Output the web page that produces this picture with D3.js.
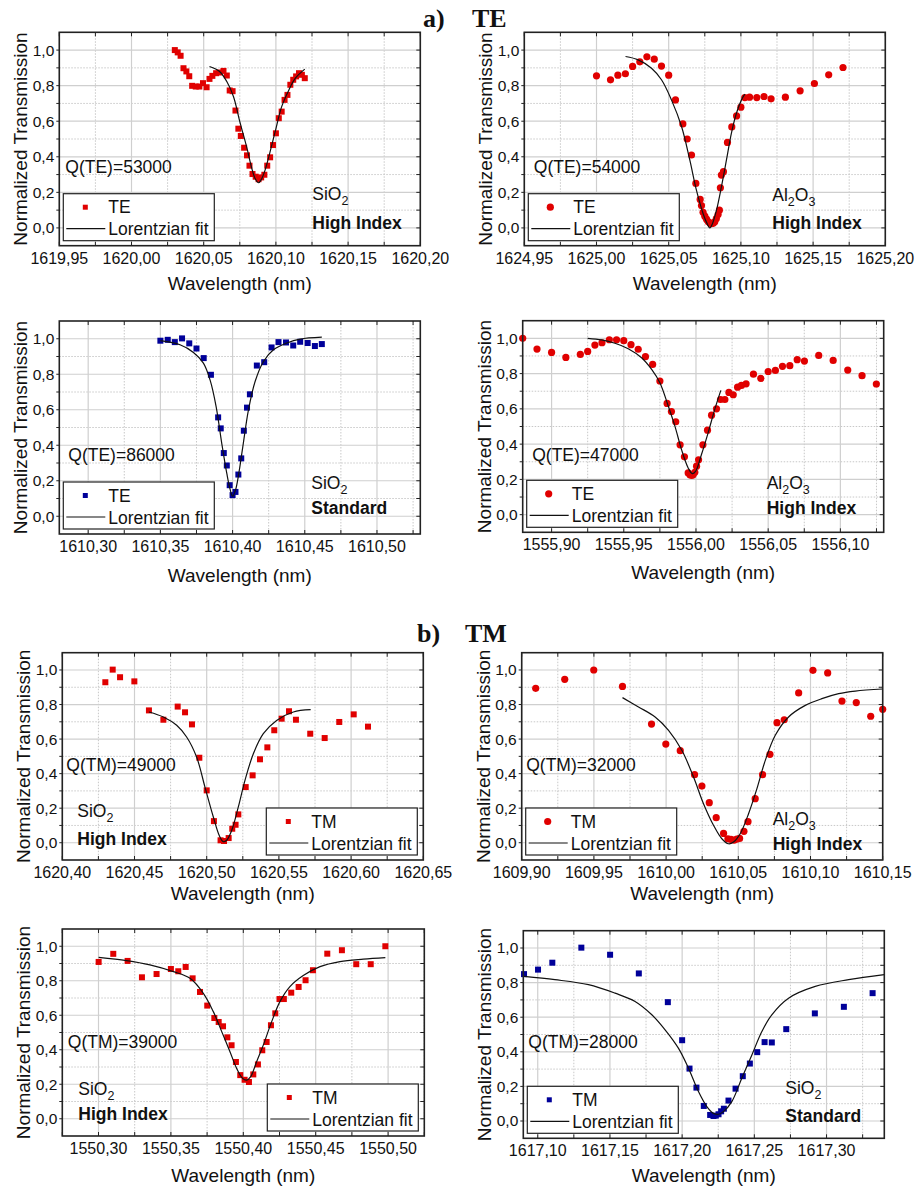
<!DOCTYPE html>
<html>
<head>
<meta charset="utf-8">
<script src="https://cdn.jsdelivr.net/npm/d3@7"></script>
<style>
body { margin: 0; background: #fff; }
text { font-family: "Liberation Sans", Arial, sans-serif; fill: #111; }
</style>
</head>
<body>
<script>
var teSiHiPts = [[1620.030,1.000],[1620.032,0.987],[1620.034,0.968],[1620.036,0.898],[1620.038,0.880],[1620.040,0.853],[1620.042,0.799],[1620.0445,0.795],[1620.047,0.795],[1620.0495,0.814],[1620.052,0.791],[1620.054,0.838],[1620.056,0.855],[1620.0586,0.870],[1620.061,0.874],[1620.0637,0.883],[1620.066,0.857],[1620.068,0.773],[1620.070,0.769],[1620.072,0.660],[1620.074,0.558],[1620.0757,0.517],[1620.078,0.451],[1620.080,0.408],[1620.0817,0.350],[1620.0838,0.303],[1620.086,0.288],[1620.088,0.274],[1620.0898,0.284],[1620.092,0.299],[1620.094,0.350],[1620.096,0.397],[1620.098,0.466],[1620.100,0.532],[1620.102,0.617],[1620.104,0.654],[1620.106,0.720],[1620.108,0.748],[1620.110,0.805],[1620.112,0.833],[1620.114,0.852],[1620.116,0.870],[1620.118,0.861],[1620.120,0.842]];
var teSiHiFit = [[1620.054,0.908],[1620.061,0.880],[1620.066,0.823],[1620.0706,0.739],[1620.075,0.598],[1620.080,0.447],[1620.0833,0.335],[1620.0856,0.278],[1620.088,0.254],[1620.090,0.274],[1620.0925,0.325],[1620.096,0.429],[1620.0995,0.541],[1620.104,0.682],[1620.109,0.776],[1620.1135,0.842],[1620.120,0.893]];

var teAlHiPts = [[1625.000,0.855],[1625.0097,0.833],[1625.0148,0.859],[1625.020,0.867],[1625.025,0.908],[1625.030,0.934],[1625.0349,0.962],[1625.040,0.949],[1625.045,0.910],[1625.050,0.859],[1625.0547,0.720],[1625.0598,0.585],[1625.0628,0.500],[1625.0658,0.410],[1625.0688,0.250],[1625.0718,0.160],[1625.0727,0.126],[1625.0738,0.088],[1625.075,0.066],[1625.0762,0.049],[1625.0773,0.036],[1625.0785,0.028],[1625.0796,0.024],[1625.0808,0.026],[1625.0819,0.034],[1625.083,0.053],[1625.0842,0.075],[1625.0851,0.100],[1625.0858,0.226],[1625.0865,0.297],[1625.0879,0.316],[1625.0907,0.481],[1625.0937,0.568],[1625.097,0.630],[1625.100,0.679],[1625.1027,0.733],[1625.106,0.735],[1625.111,0.733],[1625.116,0.739],[1625.1209,0.726],[1625.1308,0.735],[1625.141,0.771],[1625.1509,0.812],[1625.1608,0.861],[1625.1707,0.902]];
var teAlHiFit = [[1625.0201,0.964],[1625.0289,0.945],[1625.0381,0.898],[1625.045,0.833],[1625.0519,0.720],[1625.0589,0.570],[1625.0646,0.382],[1625.0692,0.212],[1625.0738,0.081],[1625.0766,0.024],[1625.0785,0.000],[1625.0803,0.024],[1625.0831,0.100],[1625.0865,0.231],[1625.090,0.382],[1625.0934,0.532],[1625.0969,0.645],[1625.1004,0.720],[1625.1027,0.752]];

var teSiStdPts = [[1610.350,0.989],[1610.3551,0.994],[1610.360,0.981],[1610.365,1.002],[1610.370,0.974],[1610.375,0.945],[1610.380,0.891],[1610.385,0.797],[1610.390,0.557],[1610.3918,0.495],[1610.3939,0.356],[1610.396,0.286],[1610.398,0.175],[1610.400,0.119],[1610.402,0.137],[1610.404,0.235],[1610.406,0.326],[1610.4078,0.482],[1610.410,0.612],[1610.412,0.687],[1610.4168,0.849],[1610.4219,0.868],[1610.427,0.951],[1610.4318,0.981],[1610.437,0.979],[1610.442,0.962],[1610.4468,0.983],[1610.452,0.976],[1610.457,0.959],[1610.4618,0.970]];
var teSiStdFit = [[1610.350,0.989],[1610.3636,0.966],[1610.3729,0.923],[1610.3798,0.863],[1610.3844,0.768],[1610.3886,0.618],[1610.3925,0.411],[1610.396,0.241],[1610.3983,0.151],[1610.400,0.113],[1610.402,0.147],[1610.4043,0.241],[1610.4071,0.392],[1610.411,0.599],[1610.4156,0.759],[1610.4214,0.872],[1610.4283,0.938],[1610.4376,0.976],[1610.4468,0.998],[1610.4618,1.009]];

var teAl1556Pts = [[1555.880,1.000],[1555.8899,0.939],[1555.900,0.920],[1555.9099,0.892],[1555.9199,0.909],[1555.925,0.926],[1555.930,0.962],[1555.9349,0.975],[1555.940,0.992],[1555.945,0.992],[1555.950,0.987],[1555.955,0.964],[1555.960,0.938],[1555.965,0.896],[1555.970,0.852],[1555.975,0.758],[1555.980,0.631],[1555.983,0.585],[1555.986,0.527],[1555.989,0.396],[1555.992,0.328],[1555.9946,0.237],[1555.9958,0.227],[1555.997,0.222],[1555.998,0.227],[1555.9992,0.240],[1556.0004,0.275],[1556.0018,0.311],[1556.0048,0.396],[1556.008,0.479],[1556.0108,0.564],[1556.0142,0.600],[1556.017,0.653],[1556.020,0.653],[1556.0228,0.693],[1556.0258,0.680],[1556.0288,0.723],[1556.0315,0.733],[1556.0347,0.742],[1556.0398,0.797],[1556.0449,0.773],[1556.050,0.812],[1556.055,0.818],[1556.0599,0.841],[1556.065,0.845],[1556.0701,0.879],[1556.0751,0.871],[1556.085,0.903],[1556.095,0.875],[1556.1051,0.820],[1556.115,0.788],[1556.1249,0.741]];
var teAl1556Fit = [[1555.925,1.000],[1555.9347,0.991],[1555.9439,0.972],[1555.9531,0.941],[1555.9623,0.890],[1555.9693,0.824],[1555.975,0.748],[1555.9808,0.616],[1555.9854,0.502],[1555.990,0.369],[1555.9946,0.265],[1555.9974,0.233],[1555.9997,0.246],[1556.0038,0.341],[1556.0084,0.464],[1556.013,0.597],[1556.0172,0.705]];

var tmSiHiPts = [[1620.4298,0.929],[1620.4349,1.002],[1620.440,0.958],[1620.4499,0.934],[1620.460,0.766],[1620.470,0.712],[1620.4799,0.788],[1620.485,0.755],[1620.4898,0.685],[1620.4949,0.492],[1620.500,0.303],[1620.505,0.125],[1620.5096,0.014],[1620.512,0.010],[1620.5152,0.027],[1620.5177,0.081],[1620.520,0.104],[1620.5219,0.164],[1620.527,0.322],[1620.5318,0.390],[1620.5369,0.483],[1620.542,0.552],[1620.5468,0.651],[1620.5519,0.718],[1620.557,0.761],[1620.5618,0.712],[1620.5717,0.631],[1620.5817,0.606],[1620.5918,0.699],[1620.6018,0.743],[1620.6117,0.672]];
var tmSiHiFit = [[1620.460,0.757],[1620.470,0.728],[1620.4792,0.680],[1620.4861,0.612],[1620.493,0.496],[1620.4988,0.322],[1620.5046,0.149],[1620.5087,0.042],[1620.5115,0.006],[1620.5138,0.014],[1620.5173,0.071],[1620.5219,0.207],[1620.5265,0.361],[1620.5323,0.515],[1620.5392,0.631],[1620.5484,0.708],[1620.560,0.757],[1620.572,0.770]];

var tmAlHiPts = [[1609.9097,0.894],[1609.9298,0.946],[1609.9499,1.000],[1609.9698,0.905],[1609.9899,0.687],[1609.9998,0.571],[1610.0098,0.533],[1610.0197,0.394],[1610.0248,0.328],[1610.0299,0.232],[1610.0347,0.145],[1610.0398,0.054],[1610.0428,0.023],[1610.0449,0.019],[1610.047,0.015],[1610.049,0.021],[1610.0509,0.025],[1610.0539,0.066],[1610.0567,0.122],[1610.0617,0.255],[1610.0668,0.394],[1610.0719,0.512],[1610.0768,0.695],[1610.0818,0.712],[1610.0918,0.867],[1610.1017,0.998],[1610.1119,0.983],[1610.1218,0.820],[1610.1317,0.811],[1610.1417,0.732],[1610.150,0.772]];
var tmAlHiFit = [[1609.9698,0.840],[1609.9809,0.786],[1609.9924,0.728],[1610.0017,0.651],[1610.0109,0.535],[1610.019,0.380],[1610.0259,0.226],[1610.0329,0.100],[1610.0386,0.023],[1610.0432,-0.006],[1610.0467,0.004],[1610.0513,0.052],[1610.0571,0.168],[1610.0629,0.313],[1610.0687,0.477],[1610.0756,0.622],[1610.0848,0.728],[1610.0964,0.795],[1610.1079,0.834],[1610.1195,0.863],[1610.131,0.878],[1610.150,0.890]];

var tmSi1550Pts = [[1550.3001,0.909],[1550.3102,0.956],[1550.3201,0.915],[1550.330,0.820],[1550.3401,0.839],[1550.350,0.868],[1550.3551,0.855],[1550.3602,0.880],[1550.365,0.814],[1550.3701,0.735],[1550.3751,0.656],[1550.380,0.584],[1550.383,0.561],[1550.386,0.536],[1550.389,0.472],[1550.3919,0.426],[1550.3949,0.329],[1550.3979,0.253],[1550.4009,0.226],[1550.4039,0.213],[1550.4069,0.257],[1550.4101,0.315],[1550.4131,0.397],[1550.4161,0.445],[1550.4191,0.542],[1550.4221,0.611],[1550.425,0.694],[1550.428,0.694],[1550.4331,0.731],[1550.4382,0.764],[1550.443,0.803],[1550.4481,0.861],[1550.458,0.957],[1550.4681,0.977],[1550.478,0.896],[1550.488,0.896],[1550.4981,1.000]];
var tmSi1550Fit = [[1550.3001,0.936],[1550.3194,0.917],[1550.3355,0.892],[1550.3517,0.853],[1550.3632,0.814],[1550.3724,0.727],[1550.3793,0.621],[1550.3851,0.505],[1550.3908,0.389],[1550.3954,0.292],[1550.3995,0.234],[1550.4023,0.224],[1550.4051,0.244],[1550.4092,0.331],[1550.4138,0.427],[1550.4196,0.563],[1550.4253,0.679],[1550.4322,0.766],[1550.4414,0.830],[1550.453,0.882],[1550.4668,0.911],[1550.4829,0.925],[1550.4981,0.934]];

var tmSiStdPts = [[1617.0905,0.849],[1617.1002,0.875],[1617.1101,0.915],[1617.1302,1.002],[1617.1501,0.961],[1617.170,0.853],[1617.1901,0.687],[1617.200,0.467],[1617.2051,0.303],[1617.2099,0.193],[1617.215,0.087],[1617.2194,0.035],[1617.2217,0.029],[1617.2233,0.031],[1617.2252,0.039],[1617.227,0.056],[1617.2289,0.071],[1617.2321,0.118],[1617.237,0.187],[1617.242,0.259],[1617.2469,0.332],[1617.252,0.398],[1617.2571,0.456],[1617.2621,0.454],[1617.2721,0.531],[1617.2919,0.622],[1617.312,0.660],[1617.3319,0.739]];
var tmSiStdFit = [[1617.0905,0.836],[1617.1119,0.817],[1617.1351,0.788],[1617.1535,0.739],[1617.1674,0.691],[1617.179,0.614],[1617.1882,0.527],[1617.1974,0.421],[1617.2044,0.305],[1617.2113,0.170],[1617.2171,0.083],[1617.2217,0.044],[1617.2252,0.039],[1617.2286,0.054],[1617.2344,0.112],[1617.2413,0.247],[1617.2483,0.382],[1617.2552,0.517],[1617.2621,0.614],[1617.2737,0.710],[1617.2922,0.778],[1617.3153,0.817],[1617.340,0.846]];

var xDomains = [[1619.95,1620.20],[1624.95,1625.20],[1610.28,1610.53],[1555.88,1556.13],[1620.40,1620.65],[1609.90,1610.15],[1550.275,1550.525],[1617.09,1617.34]];
var yTicks = [0, 0.2, 0.4, 0.6, 0.8, 1.0];
var seriesNames = ["TE","TE","TE","TE","TM","TM","TM","TM"];
var qLabels = ["Q(TE)=53000","Q(TE)=54000","Q(TE)=86000","Q(TE)=47000","Q(TM)=49000","Q(TM)=32000","Q(TM)=39000","Q(TM)=28000"];
var materials = ["SiO2","Al2O3","SiO2","Al2O3","SiO2","Al2O3","SiO2","SiO2"];
var guideTypes = ["High Index","High Index","Standard","High Index","High Index","High Index","High Index","Standard"];
var pointSets = [teSiHiPts, teAlHiPts, teSiStdPts, teAl1556Pts, tmSiHiPts, tmAlHiPts, tmSi1550Pts, tmSiStdPts];
var fitSets = [teSiHiFit, teAlHiFit, teSiStdFit, teAl1556Fit, tmSiHiFit, tmAlHiFit, tmSi1550Fit, tmSiStdFit];

// panel boxes and label placement (pixels)
var layout = [
    {l: 59.3,  t: 32.3,  w: 361, h: 213.4, col: '#e00000', sym: 'sq', leg: 'left',  qx: 6,   qy: 140.4, mx: 253, my: 168, gy: 197,  tdy: 44},
    {l: 524.3, t: 32.3,  w: 361, h: 213.4, col: '#e00000', sym: 'ci', leg: 'left',  qx: 9.5, qy: 140.4, mx: 248, my: 169, gy: 197,  tdy: 44},
    {l: 59.3,  t: 321,   w: 361, h: 213,   col: '#000099', sym: 'sq', leg: 'left',  qx: 9,   qy: 140,   mx: 252, my: 168, gy: 193,  tdy: 48},
    {l: 522.7, t: 320.7, w: 361, h: 211.6, col: '#e00000', sym: 'ci', leg: 'left',  qx: 9.5, qy: 140,   mx: 244, my: 168, gy: 193,  tdy: 47},
    {l: 62.3,  t: 652.7, w: 361, h: 207.3, col: '#e00000', sym: 'sq', leg: 'right', qx: 4,   qy: 118,   mx: 15,  my: 164, gy: 192,  tdy: 40},
    {l: 521.7, t: 652.7, w: 361, h: 207.3, col: '#e00000', sym: 'ci', leg: 'left',  qx: 4.5, qy: 118,   mx: 251, my: 172, gy: 197,  tdy: 40},
    {l: 62.3,  t: 929,   w: 362, h: 207,   col: '#e00000', sym: 'sq', leg: 'right', qx: 5.5, qy: 118.7, mx: 16,  my: 166, gy: 191,  tdy: 46},
    {l: 523.3, t: 930.7, w: 361, h: 207.6, col: '#000099', sym: 'sq', leg: 'left',  qx: 5,   qy: 117,   mx: 262, my: 163, gy: 191,  tdy: 44}
];

var loc = d3.formatLocale({decimal: ",", thousands: ".", grouping: [3], currency: ["", ""]});
var fmtX = loc.format(".2f"),
    fmtY = loc.format(".1f");

var svg = d3.select('body')
    .append('svg')
    .attr('width', 915)
    .attr('height', 1194);

// section headers
function header(x1, x2, y, a, b) {
    svg.append('text').attr('x', x1).attr('y', y)
        .style('font-family', '"Liberation Serif", "Times New Roman", serif')
        .style('font-weight', 'bold').style('font-size', '26px').text(a);
    svg.append('text').attr('x', x2).attr('y', y)
        .style('font-family', '"Liberation Serif", "Times New Roman", serif')
        .style('font-weight', 'bold').style('font-size', '26px').text(b);
}
header(423, 472, 27, 'a)', 'TE');
header(417, 465, 642, 'b)', 'TM');

function addChem(sel, name) {
    // SiO2 / Al2O3 with subscripts
    var parts = name == 'SiO2' ? [['SiO', 0], ['2', 1]] : [['Al', 0], ['2', 1], ['O', 0], ['3', 1]];
    var prev = 0;
    parts.forEach(function(p) {
        var dy = p[1] ? 5 : (prev ? -5 : 0);
        sel.append('tspan').attr('dy', dy)
            .style('font-size', p[1] ? '12.5px' : '17.5px')
            .text(p[0]);
        prev = p[1];
    });
}

layout.forEach(function(L, i) {
    var dom = xDomains[i];
    var x = d3.scaleLinear().domain(dom).range([0, L.w]);
    var y = d3.scaleLinear().domain([-0.1, 1.1]).range([L.h, 0]);

    var g = svg.append('g').attr('transform', 'translate(' + L.l + ',' + L.t + ')');

    var k0 = Math.ceil(dom[0] / 0.025 - 1e-6), k1 = Math.floor(dom[1] / 0.025 + 1e-6);
    var xMajor = [], xMinor = [];
    d3.range(k0, k1 + 1).forEach(function(k) {
        if (k % 2 == 0) xMajor.push(k * 0.025); else xMinor.push(k * 0.025);
    });
    var yMinor = [0.1, 0.3, 0.5, 0.7, 0.9];

    // grid
    g.selectAll('.gxm').data(xMinor).enter().append('line')
        .attr('x1', x).attr('x2', x).attr('y1', 0).attr('y2', L.h)
        .attr('stroke', '#c8c8c8').attr('stroke-dasharray', '1.5,1.5');
    g.selectAll('.gym').data(yMinor).enter().append('line')
        .attr('y1', y).attr('y2', y).attr('x1', 0).attr('x2', L.w)
        .attr('stroke', '#c8c8c8').attr('stroke-dasharray', '1.5,1.5');
    g.selectAll('.gx').data(xMajor).enter().append('line')
        .attr('x1', x).attr('x2', x).attr('y1', 0).attr('y2', L.h)
        .attr('stroke', '#cfcfcf').attr('stroke-width', 1.2);
    g.selectAll('.gy').data(yTicks).enter().append('line')
        .attr('y1', y).attr('y2', y).attr('x1', 0).attr('x2', L.w)
        .attr('stroke', '#cfcfcf').attr('stroke-width', 1.2);

    // short ticks: left ones point out, the rest point in
    var allX = xMajor.concat(xMinor), allY = yTicks.concat(yMinor);
    g.selectAll('.tb').data(allX).enter().append('line')
        .attr('x1', x).attr('x2', x).attr('y1', L.h).attr('y2', L.h - 4).attr('stroke', '#222');
    g.selectAll('.tt').data(allX).enter().append('line')
        .attr('x1', x).attr('x2', x).attr('y1', 0).attr('y2', 4).attr('stroke', '#222');
    g.selectAll('.tl').data(allY).enter().append('line')
        .attr('y1', y).attr('y2', y).attr('x1', 0).attr('x2', -3).attr('stroke', '#222');
    g.selectAll('.tr').data(allY).enter().append('line')
        .attr('y1', y).attr('y2', y).attr('x1', L.w).attr('x2', L.w - 4).attr('stroke', '#222');

    // tick labels
    g.selectAll('.lx').data(xMajor).enter().append('text')
        .attr('x', x).attr('y', L.h + 18)
        .style('text-anchor', 'middle').style('font-size', '16px')
        .text(fmtX);
    g.selectAll('.ly').data(yTicks).enter().append('text')
        .attr('x', -5).attr('y', function(d) { return y(d) + 5.5; })
        .style('text-anchor', 'end').style('font-size', '15.5px')
        .text(fmtY);

    // axis titles
    g.append('text')
        .attr('x', L.w / 2).attr('y', L.h + L.tdy)
        .style('text-anchor', 'middle').style('font-size', '19px')
        .text('Wavelength (nm)');
    g.append('text')
        .attr('transform', 'translate(-32,' + (L.h / 2) + ') rotate(-90)')
        .style('text-anchor', 'middle').style('font-size', '19px')
        .text('Normalized Transmission');

    var clipId = 'clip' + i;
    g.append('clipPath').attr('id', clipId)
        .append('rect').attr('width', L.w).attr('height', L.h);

    // data points
    var pts = g.append('g');
    if (L.sym == 'ci') {
        pts.selectAll('circle').data(pointSets[i]).enter().append('circle')
            .attr('cx', function(d) { return x(d[0]); })
            .attr('cy', function(d) { return y(d[1]); })
            .attr('r', 3.6).attr('fill', L.col);
    } else {
        pts.selectAll('rect').data(pointSets[i]).enter().append('rect')
            .attr('x', function(d) { return x(d[0]) - 3; })
            .attr('y', function(d) { return y(d[1]) - 3; })
            .attr('width', 6).attr('height', 6).attr('fill', L.col);
    }

    // fit curve
    var line = d3.line()
        .x(function(d) { return x(d[0]); })
        .y(function(d) { return y(d[1]); })
        .curve(d3.curveCatmullRom.alpha(0.5));
    g.append('path').datum(fitSets[i])
        .attr('clip-path', 'url(#' + clipId + ')')
        .attr('d', line).attr('fill', 'none')
        .attr('stroke', '#111').attr('stroke-width', 1.2);

    // frame
    g.append('rect').attr('width', L.w).attr('height', L.h)
        .attr('fill', 'none').attr('stroke', '#222').attr('stroke-width', 1.6);

    // legend
    var lx = L.leg == 'left' ? 4 : L.w - 157, ly = L.h - 52;
    var lg = g.append('g').attr('transform', 'translate(' + lx + ',' + ly + ')');
    lg.append('rect').attr('width', 151).attr('height', 47)
        .attr('fill', '#fff').attr('stroke', '#222').attr('stroke-width', 1.2);
    if (L.sym == 'ci') {
        lg.append('circle').attr('cx', 22).attr('cy', 13.5).attr('r', 3.6).attr('fill', L.col);
    } else {
        lg.append('rect').attr('x', 19.5).attr('y', 11).attr('width', 5).attr('height', 5).attr('fill', L.col);
    }
    lg.append('text').attr('x', 45).attr('y', 19.5).style('font-size', '17.5px').text(seriesNames[i]);
    lg.append('line').attr('x1', 3).attr('x2', 42).attr('y1', 35).attr('y2', 35)
        .attr('stroke', '#111').attr('stroke-width', 1.2);
    lg.append('text').attr('x', 45).attr('y', 41.5).style('font-size', '17.5px').text('Lorentzian fit');

    // annotations
    g.append('text').attr('x', L.qx).attr('y', L.qy)
        .style('font-size', '17.5px').text(qLabels[i]);
    var mt = g.append('text').attr('x', L.mx).attr('y', L.my).style('font-size', '17.5px');
    addChem(mt, materials[i]);
    g.append('text').attr('x', L.mx).attr('y', L.gy)
        .style('font-size', '17.5px').style('font-weight', 'bold')
        .text(guideTypes[i]);
});
</script>
</body>
</html>
